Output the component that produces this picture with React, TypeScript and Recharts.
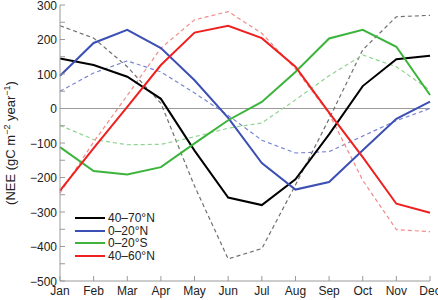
import { Line, LineChart, ReferenceLine, XAxis, YAxis } from "recharts";

const MONTHS = ["Jan", "Feb", "Mar", "Apr", "May", "Jun", "Jul", "Aug", "Sep", "Oct", "Nov", "Dec"];

// solid = one model, dashed = the other, per latitude band
const NH_40_70 = [145, 126, 92, 28, -122, -258, -280, -205, -75, 65, 143, 153];
const NH_40_70_DASH = [240, 204, 121, 15, -225, -436, -406, -222, -30, 170, 266, 270];
const NH_0_20 = [95, 190, 228, 175, 82, -27, -158, -235, -213, -121, -30, 20];
const NH_0_20_DASH = [50, 103, 138, 106, 45, -20, -92, -129, -125, -80, -35, 0];
const SH_0_20 = [-112, -181, -191, -170, -101, -34, 19, 106, 203, 228, 179, 39];
const SH_0_20_DASH = [-49, -90, -105, -104, -82, -57, -42, 25, 95, 155, 121, 53];
const NH_40_60 = [-238, -115, 5, 126, 220, 240, 204, 121, -12, -141, -276, -302];
const NH_40_60_DASH = [-245, -97, 38, 175, 257, 281, 218, 115, -15, -208, -351, -357];

const Y_TICKS = [-500, -450, -400, -350, -300, -250, -200, -150, -100, -50, 0, 50, 100, 150, 200, 250, 300];
const X_TICKS = MONTHS.map((_, i) => i);

const data = MONTHS.map((m, i) => ({
  i,
  m,
  a: NH_40_70[i],
  ad: NH_40_70_DASH[i],
  b: NH_0_20[i],
  bd: NH_0_20_DASH[i],
  c: SH_0_20[i],
  cd: SH_0_20_DASH[i],
  d: NH_40_60[i],
  dd: NH_40_60_DASH[i],
}));

const SERIES = [
  { key: "a", dash: "ad", name: "40–70°N", color: "#000000", light: "#707070" },
  { key: "b", dash: "bd", name: "0–20°N", color: "#3b4fb5", light: "#7a86d2" },
  { key: "c", dash: "cd", name: "0–20°S", color: "#3cb43c", light: "#8fd48f" },
  { key: "d", dash: "dd", name: "40–60°N", color: "#ee2020", light: "#f28a8a" },
];

const FONT = "'Liberation Sans', Arial, sans-serif";
const AXIS = "#9a9a9a";
const TEXT = "#222";

const fmt = (v: number) => (v < 0 ? "\u2212" + Math.abs(v) : String(v));

const LeftTick = ({ x, y, payload }: any) => (
  <g>
    <line x1={x} x2={x + 5} y1={y} y2={y} stroke={AXIS} />
    {payload.value % 100 === 0 && (
      <text x={x - 3} y={y + 4.5} textAnchor="end" fontSize={12} fill={TEXT} fontFamily={FONT}>
        {fmt(payload.value)}
      </text>
    )}
  </g>
);

const RightTick = ({ x, y }: any) => <line x1={x} x2={x - 5} y1={y} y2={y} stroke={AXIS} />;

const BottomTick = ({ x, y, payload }: any) => (
  <g>
    <line x1={x} x2={x} y1={y} y2={y - 5} stroke={AXIS} />
    <text x={x} y={y + 13.5} textAnchor="middle" fontSize={12} fill={TEXT} fontFamily={FONT}>
      {MONTHS[payload.value]}
    </text>
  </g>
);

const TopTick = ({ x, y }: any) => <line x1={x} x2={x} y1={y} y2={y + 5} stroke={AXIS} />;

const YLabel = () => (
  <text
    x={0}
    y={0}
    transform="translate(14.5,143) rotate(-90)"
    textAnchor="middle"
    fontSize={13}
    fill={TEXT}
    fontFamily={FONT}
  >
    (NEE (gC m
    <tspan dy={-5} fontSize={9}>−2</tspan>
    <tspan dy={5}> year</tspan>
    <tspan dy={-5} fontSize={9}>−1</tspan>
    <tspan dy={5}>)</tspan>
  </text>
);

export default function App() {
  return (
    <div style={{ position: "absolute", left: 0, top: 0, width: 438, height: 300, background: "#fff" }}>
      <LineChart width={438} height={300} data={data} margin={{ top: 5, right: 8, bottom: 0, left: 0 }}>
        <XAxis
          dataKey="i"
          type="number"
          domain={[0, 11]}
          ticks={X_TICKS}
          interval={0}
          height={19}
          tickSize={0}
          tickMargin={0}
          stroke={AXIS}
          tick={<BottomTick />}
        />
        <XAxis
          xAxisId="top"
          orientation="top"
          dataKey="i"
          type="number"
          domain={[0, 11]}
          ticks={X_TICKS}
          interval={0}
          height={0}
          tickSize={0}
          tickMargin={0}
          stroke={AXIS}
          tick={<TopTick />}
        />
        <YAxis
          type="number"
          domain={[-500, 300]}
          ticks={Y_TICKS}
          interval={0}
          width={60}
          tickSize={0}
          tickMargin={0}
          stroke={AXIS}
          tick={<LeftTick />}
          label={<YLabel />}
        />
        <YAxis
          yAxisId="right"
          orientation="right"
          type="number"
          domain={[-500, 300]}
          ticks={Y_TICKS}
          interval={0}
          width={0}
          tickSize={0}
          tickMargin={0}
          stroke={AXIS}
          tick={<RightTick />}
        />
        <ReferenceLine y={0} stroke={AXIS} strokeWidth={1} />
        {SERIES.map((s) => (
          <Line
            key={s.dash}
            dataKey={s.dash}
            stroke={s.light}
            strokeWidth={1.2}
            strokeDasharray="4 3"
            dot={false}
            isAnimationActive={false}
          />
        ))}
        {SERIES.map((s) => (
          <Line
            key={s.key}
            dataKey={s.key}
            name={s.name}
            stroke={s.color}
            strokeWidth={2}
            dot={false}
            isAnimationActive={false}
          />
        ))}
      </LineChart>
      <div
        style={{
          position: "absolute",
          left: 75,
          top: 212,
          fontFamily: FONT,
          fontSize: 12,
          color: TEXT,
        }}
      >
        {SERIES.map((s) => (
          <div key={s.key} style={{ display: "flex", alignItems: "center", height: 12.6 }}>
            <div style={{ width: 30, height: 2, background: s.color, marginRight: 3 }} />
            <span style={{ lineHeight: "12px" }}>{s.name}</span>
          </div>
        ))}
      </div>
    </div>
  );
}
